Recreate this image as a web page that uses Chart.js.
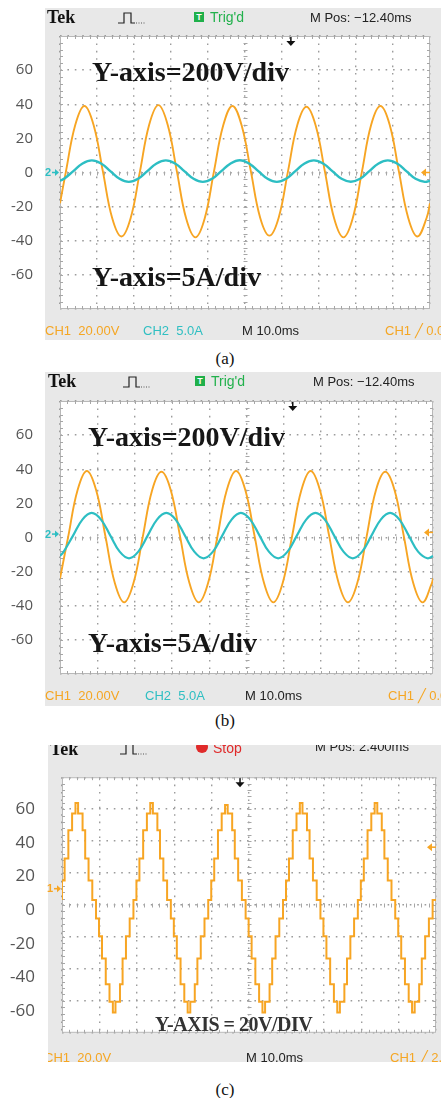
<!DOCTYPE html>
<html>
<head>
<meta charset="utf-8">
<script src="https://cdn.jsdelivr.net/npm/chart.js@4.4.1/dist/chart.umd.min.js"></script>
<style>
body { margin: 0; background: #fff; }
#page { position: relative; width: 441px; height: 1098px; overflow: hidden; }
.frame { position: absolute; background: #e8e8e8; z-index: 0; }
canvas { position: absolute; left: 0; z-index: 1; }
.over { position: absolute; overflow: hidden; z-index: 2; }
.over span, .over svg { position: absolute; white-space: nowrap; }
.tek { font: bold 18px/18px "Liberation Serif", serif; color: #111; }
.hd { font: 13px/13px "Liberation Sans", Arial, sans-serif; color: #222; }
.ft { font: 13px/13px "Liberation Sans", Arial, sans-serif; }
.or { color: #f5a623; }
.cy { color: #2fbfc2; }
.gr { font: 14px/14px "Liberation Sans", Arial, sans-serif; color: #22b14c; }
.tbox { width: 10px; height: 10px; background: #1fb04a; color: #fff; font: bold 9px/10px "Liberation Sans", sans-serif; text-align: center; }
.ann { font: bold 28px/28px "Liberation Serif", serif; color: #161616; }
.ann2 { font: bold 20px/20px "Liberation Serif", serif; color: #333; letter-spacing: -0.5px; }
.cap { position: absolute; left: 205px; width: 40px; text-align: center; font: 17px/17px "Liberation Serif", serif; color: #111; }
</style>
</head>
<body>
<div id="page">
  <div class="frame" style="left:45px;top:8px;width:396px;height:332px"></div>
  <div class="frame" style="left:45px;top:372px;width:396px;height:334px"></div>
  <div class="frame" style="left:48px;top:745px;width:393px;height:317px"></div>

  <canvas id="scopeA" width="441" height="345" style="top:0px"></canvas>
  <canvas id="scopeB" width="441" height="345" style="top:365px"></canvas>
  <canvas id="scopeC" width="441" height="330" style="top:740px"></canvas>

  <div class="over" style="left:45px;top:8px;width:396px;height:332px">
    <span class="tek" style="left:2px;top:0px">Tek</span>
    <svg style="left:73px;top:4px" width="28" height="12"><polyline points="0,11 6,11 6,1 13,1 13,11 17,11" fill="none" stroke="#222" stroke-width="1.2"/><line x1="18" y1="11" x2="28" y2="11" stroke="#555" stroke-dasharray="1,1.5"/></svg>
    <span class="tbox" style="left:149px;top:4px">T</span>
    <span class="gr" style="left:165px;top:2px">Trig'd</span>
    <span class="hd" style="left:265px;top:2.5px">M Pos: −12.40ms</span>
    <span class="ann" style="left:47px;top:50px">Y-axis=200V/div</span>
    <span class="ann" style="left:47px;top:255px">Y-axis=5A/div</span>
    <span class="ft or" style="left:0px;top:315.5px">CH1&nbsp;&nbsp;20.00V</span>
    <span class="ft cy" style="left:98px;top:315.5px">CH2&nbsp;&nbsp;5.0A</span>
    <span class="ft" style="left:197px;top:315.5px;color:#222">M 10.0ms</span>
    <span class="ft or" style="left:340px;top:315.5px">CH1 ╱ 0.00V</span>
  </div>

  <div class="over" style="left:45px;top:372px;width:396px;height:334px">
    <span class="tek" style="left:3px;top:0px">Tek</span>
    <svg style="left:78px;top:4px" width="28" height="12"><polyline points="0,11 6,11 6,1 13,1 13,11 17,11" fill="none" stroke="#222" stroke-width="1.2"/><line x1="18" y1="11" x2="28" y2="11" stroke="#555" stroke-dasharray="1,1.5"/></svg>
    <span class="tbox" style="left:150px;top:4px">T</span>
    <span class="gr" style="left:166px;top:2px">Trig'd</span>
    <span class="hd" style="left:268px;top:2.5px">M Pos: −12.40ms</span>
    <span class="ann" style="left:43px;top:51px">Y-axis=200V/div</span>
    <span class="ann" style="left:43px;top:256.5px">Y-axis=5A/div</span>
    <span class="ft or" style="left:0px;top:316.5px">CH1&nbsp;&nbsp;20.00V</span>
    <span class="ft cy" style="left:100px;top:316.5px">CH2&nbsp;&nbsp;5.0A</span>
    <span class="ft" style="left:200px;top:316.5px;color:#222">M 10.0ms</span>
    <span class="ft or" style="left:343px;top:316.5px">CH1 ╱ 0.00V</span>
  </div>

  <div class="over" style="left:48px;top:745px;width:393px;height:317px">
    <span class="tek" style="left:2px;top:-5px">Tek</span>
    <svg style="left:72px;top:-2px" width="28" height="12"><polyline points="0,11 6,11 6,1 13,1 13,11 17,11" fill="none" stroke="#222" stroke-width="1.2"/><line x1="18" y1="11" x2="28" y2="11" stroke="#555" stroke-dasharray="1,1.5"/></svg>
    <svg style="left:148px;top:-4px" width="12" height="12"><circle cx="6" cy="6" r="6" fill="#e02a2a"/></svg>
    <span class="gr" style="left:165px;top:-4px;color:#e02a2a">Stop</span>
    <span class="hd" style="left:267px;top:-5px">M Pos: 2.400ms</span>
    <span class="ann2" style="left:107px;top:269px">Y-AXIS = 20V/DIV</span>
    <span class="ft or" style="left:-4px;top:305.5px">CH1&nbsp;&nbsp;20.0V</span>
    <span class="ft" style="left:198px;top:305.5px;color:#222">M 10.0ms</span>
    <span class="ft or" style="left:342px;top:305.5px">CH1 ╱ 2.00V</span>
  </div>

  <div class="cap" style="top:350px">(a)</div>
  <div class="cap" style="top:712px">(b)</div>
  <div class="cap" style="top:1081px">(c)</div>
</div>

<script>
// x is in screen divisions (10.0 ms/div), y in the values printed on the left
const yTicks = [-60, -40, -20, 0, 20, 40, 60];

// (a) CH1 voltage and CH2 current
const tVoltA = [0, 0.16, 0.41, 0.66, 0.91, 1.16, 1.41, 1.66, 1.91, 2.16, 2.41, 2.66, 2.91, 3.16, 3.41, 3.66, 3.91,
  4.16, 4.41, 4.66, 4.91, 5.16, 5.41, 5.66, 5.91, 6.16, 6.41, 6.66, 6.91, 7.16, 7.41, 7.66, 7.91,
  8.16, 8.41, 8.66, 8.91, 9.16, 9.41, 9.66, 9.91, 10]
const voltA = [-18, 0.5, 27.7, 39, 27.7, 0.5, -26.7, -37.5, -26.7, 0.5, 28, 39.5, 28, 0.5, -27, -38, -27,
  0.5, 27.5, 39, 27.5, 0.5, -26.5, -37, -26.5, 0.5, 27.5, 38.5, 27.5, 0.5, -27, -38, -27,
  0.5, 28, 39, 28, 0.5, -26.5, -37.5, -26.5, -18]
const tCurA = [0, 0.11, 0.36, 0.61, 0.86, 1.11, 1.36, 1.61, 1.86, 2.11, 2.36, 2.61, 2.86, 3.11, 3.36, 3.61, 3.86,
  4.11, 4.36, 4.61, 4.86, 5.11, 5.36, 5.61, 5.86, 6.11, 6.36, 6.61, 6.86, 7.11, 7.36, 7.61, 7.86,
  8.11, 8.36, 8.61, 8.86, 9.11, 9.36, 9.61, 9.86, 10]
const curA = [-4.9, -3.7, 0.8, 5.3, 7.1, 5.3, 0.8, -3.7, -5.5, -3.7, 0.8, 5.3, 7.1, 5.3, 0.8, -3.7, -5.5,
  -3.7, 0.8, 5.3, 7.2, 5.3, 0.8, -3.7, -5.5, -3.7, 0.8, 5.3, 7.1, 5.3, 0.8, -3.7, -5.4,
  -3.7, 0.8, 5.3, 7.1, 5.3, 0.8, -3.7, -5.5, -4.9]

// (b) CH1 voltage and CH2 current
const tVoltB = [0, 0.22, 0.47, 0.72, 0.97, 1.22, 1.47, 1.72, 1.97, 2.22, 2.47, 2.72, 2.97, 3.22, 3.47, 3.72, 3.97,
  4.22, 4.47, 4.72, 4.97, 5.22, 5.47, 5.72, 5.97, 6.22, 6.47, 6.72, 6.97, 7.22, 7.47, 7.72, 7.97,
  8.22, 8.47, 8.72, 8.97, 9.22, 9.47, 9.72, 9.97, 10]
const voltB = [-24, 0.5, 27.7, 39, 27.7, 0.5, -26.7, -38, -26.7, 0.5, 27.7, 38.5, 27.7, 0.5, -26.7, -38, -26.7,
  0.5, 27.7, 39, 27.7, 0.5, -26.7, -38, -26.7, 0.5, 27.7, 39, 27.7, 0.5, -26.7, -38, -26.7,
  0.5, 27.7, 38.5, 27.7, 0.5, -26.7, -38, -26.7, -24]
const tCurB = [0, 0.10, 0.35, 0.60, 0.85, 1.10, 1.35, 1.60, 1.85, 2.10, 2.35, 2.60, 2.85, 3.10, 3.35, 3.60, 3.85,
  4.10, 4.35, 4.60, 4.85, 5.10, 5.35, 5.60, 5.85, 6.10, 6.35, 6.60, 6.85, 7.10, 7.35, 7.60, 7.85,
  8.10, 8.35, 8.60, 8.85, 9.10, 9.35, 9.60, 9.85, 10]
const curB = [-10.8, -8.3, 1.1, 10.5, 14.4, 10.5, 1.1, -8.3, -12.2, -8.3, 1.1, 10.5, 14.4, 10.5, 1.1, -8.3, -12.2,
  -8.3, 1.1, 10.5, 14.4, 10.5, 1.1, -8.3, -12.2, -8.3, 1.1, 10.5, 14.4, 10.5, 1.1, -8.3, -12.2,
  -8.3, 1.1, 10.5, 14.4, 10.5, 1.1, -8.3, -12.2, -10.8]

// (c) staircase output, each level held until the next time
const tStep = [0, 0.07, 0.17, 0.27, 0.36, 0.43, 0.55, 0.62, 0.71, 0.81, 0.91, 0.99, 1.07, 1.17, 1.27, 1.36, 1.43, 1.55, 1.62, 1.71, 1.81, 1.91,
  1.99, 2.07, 2.17, 2.27, 2.36, 2.43, 2.55, 2.62, 2.71, 2.81, 2.91, 2.99, 3.07, 3.17, 3.27, 3.36, 3.43, 3.55, 3.62, 3.71, 3.81, 3.91,
  3.99, 4.07, 4.17, 4.27, 4.36, 4.43, 4.55, 4.62, 4.71, 4.81, 4.91, 4.99, 5.07, 5.17, 5.27, 5.36, 5.43, 5.55, 5.62, 5.71, 5.81, 5.91,
  5.99, 6.07, 6.17, 6.27, 6.36, 6.43, 6.55, 6.62, 6.71, 6.81, 6.91, 6.99, 7.07, 7.17, 7.27, 7.36, 7.43, 7.55, 7.62, 7.71, 7.81, 7.91,
  7.99, 8.07, 8.17, 8.27, 8.36, 8.43, 8.55, 8.62, 8.71, 8.81, 8.91, 8.99, 9.07, 9.17, 9.27, 9.36, 9.43, 9.55, 9.62, 9.71, 9.81, 9.91,
  9.99, 10]
const stepC = [6, 17.6, 30.7, 47.5, 57.5, 63.8, 57.5, 47.5, 30.7, 17.6, 6, -5, -15.5, -28.7, -44, -54.5, -60.8, -54.5, -44, -28.7, -15.5, -5,
  6, 17.6, 30.7, 47.5, 57.5, 63.8, 57.5, 47.5, 30.7, 17.6, 6, -5, -15.5, -28.7, -44, -54.5, -60.8, -54.5, -44, -28.7, -15.5, -5,
  6, 17.6, 30.7, 47.5, 57.5, 62.5, 57.5, 47.5, 30.7, 17.6, 6, -5, -15.5, -28.7, -44, -54.5, -60.8, -54.5, -44, -28.7, -15.5, -5,
  6, 17.6, 30.7, 47.5, 57.5, 63.8, 57.5, 47.5, 30.7, 17.6, 6, -5, -15.5, -28.7, -44, -54.5, -60.8, -54.5, -44, -28.7, -15.5, -5,
  6, 17.6, 30.7, 47.5, 57.5, 63.8, 57.5, 47.5, 30.7, 17.6, 6, -5, -15.5, -28.7, -44, -54.5, -60.8, -54.5, -44, -28.7, -15.5, -5,
  6, 6]

// screen markers: trigger position (div), ground marker and trigger level (value)
const trigPos = [6.24, 6.24, 4.76]
const gndMark = [0, 2, 12.8]
const lvlMark = [0, 3, 37.5]
const yRange = [[-80, 80], [-80, 80], [-72.9, 79.1]]

const ORANGE = '#f7a523'
const CYAN = '#2dbec3'
const GRID = '#9c9c9c'
const DOT = [1.6, 5.8]

const pts = (t, v) => t.map((x, i) => ({x: x, y: v[i]}))

function scopeDeco(idx, gndColor, gndLabel) {
  return {
    id: 'scopeDeco',
    beforeDraw(chart) {
      const {ctx, chartArea: a} = chart
      ctx.save()
      ctx.fillStyle = '#fff'
      ctx.fillRect(a.left, a.top, a.right - a.left, a.bottom - a.top)
      ctx.restore()
    },
    beforeDatasetsDraw(chart) {
      const {ctx, chartArea: a, scales} = chart
      const cx = Math.round(scales.x.getPixelForValue(5)) + 0.5
      const cy = Math.round(scales.g.getPixelForValue(0)) + 0.5
      ctx.save()
      ctx.strokeStyle = '#b8b8b8'
      ctx.lineWidth = 1
      ctx.strokeRect(a.left + 0.5, a.top + 0.5, a.right - a.left - 1, a.bottom - a.top - 1)
      ctx.strokeStyle = '#a6a6a6'
      ctx.beginPath()
      // minor ticks every 0.2 div on the border and the centre cross
      for (let d = 0.2; d < 9.99; d += 0.2) {
        const px = Math.round(scales.x.getPixelForValue(d)) + 0.5
        ctx.moveTo(px, a.top); ctx.lineTo(px, a.top + 3)
        ctx.moveTo(px, a.bottom); ctx.lineTo(px, a.bottom - 3)
        ctx.moveTo(px, cy - 2); ctx.lineTo(px, cy + 2)
      }
      for (let d = -3.8; d < 3.99; d += 0.2) {
        const py = Math.round(scales.g.getPixelForValue(d)) + 0.5
        ctx.moveTo(a.left, py); ctx.lineTo(a.left + 3, py)
        ctx.moveTo(a.right, py); ctx.lineTo(a.right - 3, py)
        ctx.moveTo(cx - 2, py); ctx.lineTo(cx + 2, py)
      }
      ctx.stroke()
      ctx.restore()
    },
    afterDatasetsDraw(chart) {
      const {ctx, chartArea: a, scales} = chart
      ctx.save()
      // trigger position arrow
      const tx = scales.x.getPixelForValue(trigPos[idx])
      ctx.fillStyle = '#111'
      ctx.fillRect(tx - 0.75, a.top + 1, 1.5, 5)
      ctx.beginPath()
      ctx.moveTo(tx - 4.5, a.top + 5); ctx.lineTo(tx + 4.5, a.top + 5); ctx.lineTo(tx, a.top + 10)
      ctx.fill()
      // ground marker on the left
      const gy = scales.y.getPixelForValue(gndMark[idx])
      ctx.fillStyle = gndColor
      ctx.font = 'bold 11px "Liberation Sans", sans-serif'
      ctx.textBaseline = 'middle'
      ctx.textAlign = 'left'
      ctx.fillText(gndLabel, a.left - 15, gy + 0.5)
      ctx.fillRect(a.left - 8, gy - 0.75, 4, 1.5)
      ctx.beginPath()
      ctx.moveTo(a.left - 5, gy - 3.5); ctx.lineTo(a.left - 1, gy); ctx.lineTo(a.left - 5, gy + 3.5)
      ctx.fill()
      // trigger level marker on the right
      const ly = scales.y.getPixelForValue(lvlMark[idx])
      ctx.fillStyle = ORANGE
      ctx.beginPath()
      ctx.moveTo(a.right - 9, ly); ctx.lineTo(a.right - 4, ly - 4); ctx.lineTo(a.right - 4, ly + 4)
      ctx.fill()
      ctx.fillRect(a.right - 5, ly - 0.75, 5, 1.5)
      ctx.restore()
    }
  }
}

function scope(id, idx, datasets, pad, axisW, fontSize, gndColor, gndLabel) {
  return new Chart(document.getElementById(id), {
    type: 'line',
    data: {datasets: datasets},
    options: {
      responsive: false,
      animation: false,
      events: [],
      layout: {padding: pad},
      plugins: {legend: {display: false}, tooltip: {enabled: false}},
      elements: {point: {radius: 0}},
      scales: {
        x: {
          type: 'linear', min: 0, max: 10,
          ticks: {display: false, stepSize: 1},
          grid: {color: GRID, lineWidth: 1.4, drawTicks: false},
          border: {display: false, dash: DOT},
          afterFit: s => { s.height = 0 }
        },
        y: {
          type: 'linear', min: yRange[idx][0], max: yRange[idx][1],
          afterBuildTicks: s => { s.ticks = yTicks.map(v => ({value: v})) },
          afterFit: s => { s.width = axisW },
          ticks: {color: '#555', padding: 27, font: {family: 'Open Sans', size: fontSize}},
          grid: {display: false, drawTicks: false},
          border: {display: false}
        },
        g: {
          type: 'linear', axis: 'y', position: 'right', min: -4, max: 4,
          ticks: {display: false, stepSize: 1},
          grid: {color: GRID, lineWidth: 1.4, drawTicks: false},
          border: {display: false, dash: DOT},
          afterFit: s => { s.width = 0 }
        }
      }
    },
    plugins: [scopeDeco(idx, gndColor, gndLabel)]
  })
}

scope('scopeA', 0, [
  {data: pts(tCurA, curA), borderColor: CYAN, borderWidth: 2.4, tension: 0.4, yAxisID: 'y'},
  {data: pts(tVoltA, voltA), borderColor: ORANGE, borderWidth: 1.9, tension: 0.4, yAxisID: 'y'}
], {top: 28, bottom: 27, left: 0, right: 11}, 60, 15, CYAN, '2')

scope('scopeB', 1, [
  {data: pts(tCurB, curB), borderColor: CYAN, borderWidth: 2.2, tension: 0.4, yAxisID: 'y'},
  {data: pts(tVoltB, voltB), borderColor: ORANGE, borderWidth: 1.9, tension: 0.4, yAxisID: 'y'}
], {top: 25, bottom: 23, left: 0, right: 8}, 60, 15, CYAN, '2')

scope('scopeC', 2, [
  {data: pts(tStep, stepC), borderColor: ORANGE, borderWidth: 2, stepped: 'after', yAxisID: 'y'}
], {top: 18, bottom: 23, left: 0, right: 5}, 62, 17, ORANGE, '1')
</script>
</body>
</html>
